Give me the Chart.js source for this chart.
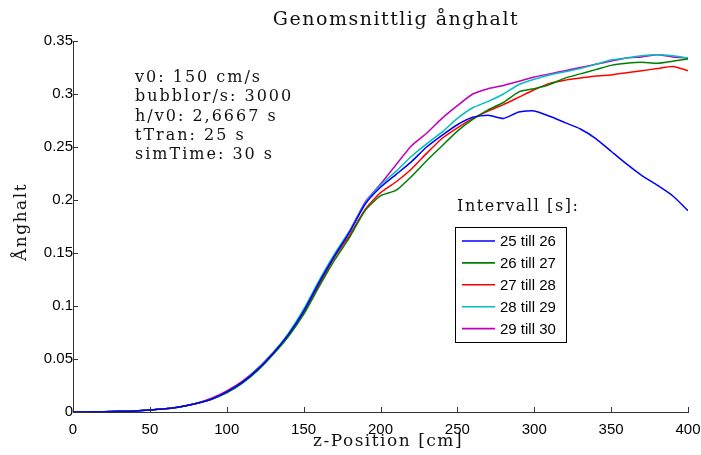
<!DOCTYPE html>
<html>
<head>
<meta charset="utf-8">
<script src="https://cdn.jsdelivr.net/npm/chart.js@4/dist/chart.umd.min.js"></script>
<style>
  body { margin: 0; background: #fff; }
  #wrap { width: 701px; height: 455px; position: relative; }
</style>
</head>
<body>
<div id="wrap"><canvas id="chart"></canvas></div>
<script>
// z-position (cm)
const zPos = [0, 10, 20, 30, 40, 50, 60, 70, 80, 90, 100, 110, 120, 130, 140, 150, 160, 170, 180, 190,
              200, 210, 220, 230, 240, 250, 260, 270, 280, 290, 300, 310, 320, 330, 340, 350, 360, 370, 380, 390, 400];

const vals25 = [0, 0, 0.0003, 0.0006, 0.001, 0.002, 0.003, 0.005, 0.008, 0.012, 0.019, 0.028, 0.040, 0.055, 0.073, 0.095, 0.122, 0.147, 0.170, 0.196,
                0.212, 0.224, 0.236, 0.250, 0.261, 0.271, 0.278, 0.280, 0.277, 0.283, 0.284, 0.279, 0.273, 0.267, 0.258, 0.246, 0.234, 0.223, 0.214, 0.204, 0.190];
const vals26 = [0, 0, 0.0003, 0.0006, 0.001, 0.002, 0.003, 0.005, 0.008, 0.012, 0.018, 0.027, 0.039, 0.054, 0.071, 0.092, 0.118, 0.143, 0.165, 0.190,
                0.204, 0.209, 0.222, 0.237, 0.251, 0.265, 0.276, 0.285, 0.292, 0.302, 0.305, 0.309, 0.315, 0.319, 0.323, 0.327, 0.329, 0.330, 0.329, 0.331, 0.333];
const vals27 = [0, 0, 0.0003, 0.0006, 0.001, 0.002, 0.003, 0.005, 0.008, 0.012, 0.019, 0.028, 0.040, 0.055, 0.072, 0.093, 0.120, 0.146, 0.167, 0.191,
                0.207, 0.217, 0.229, 0.244, 0.258, 0.268, 0.277, 0.284, 0.290, 0.297, 0.304, 0.310, 0.313, 0.315, 0.317, 0.318, 0.320, 0.322, 0.324, 0.326, 0.322];
const vals28 = [0, 0, 0.0003, 0.0006, 0.001, 0.002, 0.003, 0.005, 0.008, 0.012, 0.019, 0.028, 0.041, 0.056, 0.074, 0.097, 0.124, 0.149, 0.171, 0.197,
                0.214, 0.227, 0.241, 0.253, 0.264, 0.277, 0.287, 0.293, 0.300, 0.309, 0.314, 0.318, 0.321, 0.324, 0.328, 0.332, 0.334, 0.336, 0.337, 0.336, 0.334];
const vals29 = [0, 0, 0.0003, 0.0006, 0.001, 0.002, 0.003, 0.005, 0.008, 0.013, 0.020, 0.029, 0.041, 0.056, 0.073, 0.095, 0.122, 0.148, 0.171, 0.198,
                0.215, 0.233, 0.251, 0.263, 0.277, 0.289, 0.300, 0.305, 0.308, 0.312, 0.316, 0.319, 0.322, 0.325, 0.328, 0.331, 0.334, 0.335, 0.337, 0.335, 0.334];

const seriesNames = ['25 till 26', '26 till 27', '27 till 28', '28 till 29', '29 till 30'];
const seriesColors = ['#0000ff', '#008000', '#ff0000', '#00bfbf', '#bf00bf'];
const xTicks = [0, 50, 100, 150, 200, 250, 300, 350, 400];
const yTicks = [0, 0.05, 0.1, 0.15, 0.2, 0.25, 0.3, 0.35];
const infoLines = ['v0: 150 cm/s', 'bubblor/s: 3000', 'h/v0: 2,6667 s', 'tTran: 25 s', 'simTime: 30 s'];

const allVals = [vals25, vals26, vals27, vals28, vals29];
const serif = '"DejaVu Serif", serif';
const sans = '"Liberation Sans", Arial, sans-serif';

// texts, inward ticks and the boxed legend
const decor = {
  id: 'decor',
  afterDraw(chart) {
    const ctx = chart.ctx;
    const a = chart.chartArea;
    const xs = chart.scales.x, ys = chart.scales.y;
    ctx.save();
    ctx.strokeStyle = '#333';
    ctx.lineWidth = 1;
    ctx.beginPath();
    xTicks.forEach(v => {
      const px = Math.round(xs.getPixelForValue(v)) + 0.5;
      ctx.moveTo(px, a.bottom); ctx.lineTo(px, a.bottom - 5);
    });
    yTicks.forEach(v => {
      const py = Math.round(ys.getPixelForValue(v)) + 0.5;
      ctx.moveTo(a.left, py); ctx.lineTo(a.left + 5, py);
    });
    ctx.stroke();

    ctx.fillStyle = '#111';
    ctx.textAlign = 'center';
    ctx.textBaseline = 'middle';
    ctx.font = '19px ' + serif;
    ctx.letterSpacing = '1.5px';
    ctx.fillText('Genomsnittlig ånghalt', 396, 20);
    ctx.font = '17px ' + serif;
    ctx.fillText('z-Position [cm]', 388, 442);
    ctx.save();
    ctx.translate(22, 222);
    ctx.rotate(-Math.PI / 2);
    ctx.fillText('Ånghalt', 0, 0);
    ctx.restore();

    ctx.textAlign = 'left';
    ctx.font = '16px ' + serif;
    ctx.letterSpacing = '2px';
    infoLines.forEach((t, i) => ctx.fillText(t, 135, 78 + i * 19.2));
    ctx.letterSpacing = '1.6px';
    ctx.fillText('Intervall [s]:', 457, 207);

    // legend
    ctx.letterSpacing = '0px';
    ctx.fillStyle = '#fff';
    ctx.fillRect(455.5, 227.5, 111, 115);
    ctx.strokeStyle = '#000';
    ctx.lineWidth = 1;
    ctx.strokeRect(455.5, 227.5, 111, 115);
    ctx.font = '15px ' + sans;
    seriesNames.forEach((name, i) => {
      const y = 241 + i * 21.9;
      ctx.strokeStyle = seriesColors[i];
      ctx.lineWidth = 1.6;
      ctx.beginPath();
      ctx.moveTo(462, y);
      ctx.lineTo(495, y);
      ctx.stroke();
      ctx.fillStyle = '#000';
      ctx.fillText(name, 500, y + 1);
    });
    ctx.restore();
  }
};

new Chart(document.getElementById('chart').getContext('2d'), {
  type: 'line',
  data: {
    datasets: allVals.map((vals, i) => ({
      label: seriesNames[i],
      data: vals.map((v, k) => ({ x: zPos[k], y: v })),
      borderColor: seriesColors[i],
      backgroundColor: seriesColors[i],
      borderWidth: 1.5,
      pointRadius: 0,
      tension: 0.2,
      fill: false
    }))
  },
  options: {
    responsive: true,
    maintainAspectRatio: false,
    animation: false,
    layout: { padding: { top: 41, right: 13, left: 0, bottom: 0 } },
    plugins: { legend: { display: false }, tooltip: { enabled: false } },
    scales: {
      x: {
        type: 'linear', min: 0, max: 400,
        afterBuildTicks: s => { s.ticks = xTicks.map(v => ({ value: v })); },
        afterFit: s => { s.height = 43; s.paddingLeft = 0; s.paddingRight = 0; },
        grid: { display: false, tickLength: 0 },
        border: { display: true, color: '#333', width: 1 },
        ticks: { color: '#000', font: { family: sans, size: 15 }, padding: 9, maxRotation: 0 }
      },
      y: {
        min: 0, max: 0.35,
        afterBuildTicks: s => { s.ticks = yTicks.map(v => ({ value: v })); },
        afterFit: s => { s.width = 73; s.paddingTop = 0; s.paddingBottom = 0; },
        grid: { display: false, tickLength: 0 },
        border: { display: true, color: '#333', width: 1 },
        ticks: {
          color: '#000', font: { family: sans, size: 15 }, padding: 0,
          callback: v => String(Number(v.toFixed(2)))
        }
      }
    }
  },
  plugins: [decor]
});
</script>
</body>
</html>
